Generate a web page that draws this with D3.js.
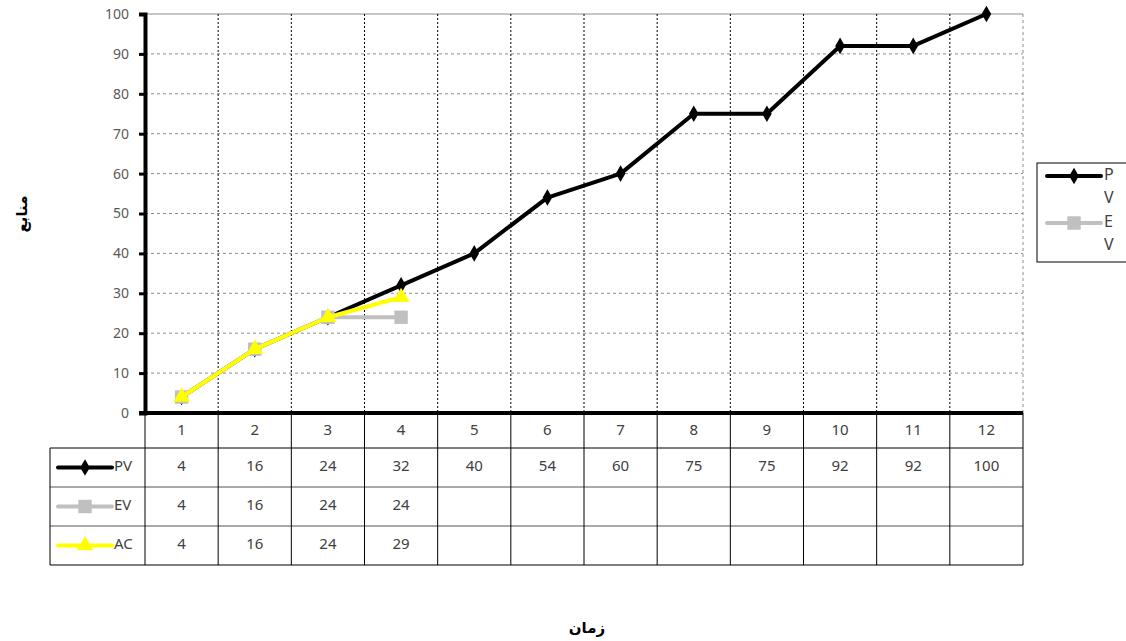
<!DOCTYPE html>
<html>
<head>
<meta charset="utf-8">
<script src="https://cdn.jsdelivr.net/npm/d3@7"></script>
<style>
  body{margin:0;background:#fff;}
  svg{display:block;font-family:"Noto Sans","DejaVu Sans",sans-serif;}
</style>
</head>
<body>
<svg id="chart" width="1126" height="641"></svg>
<script>
// chart data
const periods = [1,2,3,4,5,6,7,8,9,10,11,12];
const pvValues = [4,16,24,32,40,54,60,75,75,92,92,100];
const evValues = [4,16,24,24];
const acValues = [4,16,24,29];
const yTicks = [0,10,20,30,40,50,60,70,80,90,100];
const seriesNames = ['PV','EV','AC'];
const yTitle = 'منابع';
const xTitle = 'زمان';

const seriesStyle = {
    PV:{color:'#000000', marker:d3.symbolDiamond, size:80},
    EV:{color:'#c0c0c0', marker:d3.symbolSquare, size:180},
    AC:{color:'#ffff00', marker:d3.symbolTriangle, size:120}
};

const svg = d3.select('#chart');
const plot = {left:145, right:1023, top:14, bottom:413};
const rowH = 39;
const tableLeft = 50;

const x = d3.scaleBand().domain(periods).range([plot.left, plot.right]);
const y = d3.scaleLinear().domain([0,100]).range([plot.bottom, plot.top]);

// horizontal gridlines
svg.append('g')
    .selectAll('line')
    .data(yTicks.filter(v=>v>0))
    .join('line')
    .attr('x1',plot.left).attr('x2',plot.right)
    .attr('y1',d=>y(d)).attr('y2',d=>y(d))
    .attr('stroke','#8c8c8c')
    .attr('stroke-width',1)
    .attr('stroke-dasharray',d=>d===100?null:'3,3');

// right border
svg.append('line')
    .attr('x1',plot.right).attr('x2',plot.right)
    .attr('y1',plot.top).attr('y2',plot.bottom)
    .attr('stroke','#8c8c8c')
    .attr('stroke-dasharray','3,3');

// vertical gridlines at category boundaries
svg.append('g')
    .selectAll('line')
    .data(periods.slice(1))
    .join('line')
    .attr('x1',d=>x(d)).attr('x2',d=>x(d))
    .attr('y1',plot.top).attr('y2',plot.bottom)
    .attr('stroke','#000')
    .attr('stroke-width',1)
    .attr('stroke-dasharray','2,2');

// y axis
const yAxis = svg.append('g')
    .attr('transform',`translate(${plot.left},0)`)
    .call(d3.axisLeft(y).tickValues(yTicks).tickSize(6).tickPadding(10));
yAxis.select('.domain').attr('stroke','#000').attr('stroke-width',4);
yAxis.selectAll('.tick line').attr('stroke','#000').attr('stroke-width',3);
yAxis.selectAll('.tick text')
    .attr('fill','#595959')
    .style('font-size','14px')
    .style('font-family','"Noto Sans","DejaVu Sans",sans-serif');

// x axis line
svg.append('line')
    .attr('x1',plot.left-6).attr('x2',plot.right)
    .attr('y1',plot.bottom).attr('y2',plot.bottom)
    .attr('stroke','#000').attr('stroke-width',4);

// series lines and markers
const line = d3.line()
    .x((d,i)=>x(periods[i])+x.bandwidth()/2)
    .y(d=>y(d));
const seriesData = {PV:pvValues, EV:evValues, AC:acValues};

seriesNames.forEach(name=>{
    const st = seriesStyle[name];
    const vals = seriesData[name];
    const g = svg.append('g');
    g.append('path')
        .datum(vals)
        .attr('d',line)
        .attr('fill','none')
        .attr('stroke',st.color)
        .attr('stroke-width',4)
        .attr('stroke-linejoin','round');
    g.selectAll('path.marker')
        .data(vals)
        .join('path')
        .attr('class','marker')
        .attr('transform',(d,i)=>`translate(${x(periods[i])+x.bandwidth()/2},${y(d)})`)
        .attr('d',d3.symbol(st.marker,st.size))
        .attr('fill',st.color);
});

// data table
const headerBottom = plot.bottom + 35;
const rowY = i=>headerBottom + i*rowH;
const table = svg.append('g');

// horizontal lines of the table
table.selectAll('line.h')
    .data([0,1,2,3])
    .join('line')
    .attr('class','h')
    .attr('x1',tableLeft).attr('x2',plot.right)
    .attr('y1',d=>rowY(d)).attr('y2',d=>rowY(d))
    .attr('stroke',(d,i)=>i===0||i===3?'#000':'#555')
    .attr('stroke-width',1);

// vertical lines of the table
table.selectAll('line.v')
    .data(periods.map(p=>x(p)).concat([plot.right]))
    .join('line')
    .attr('class','v')
    .attr('x1',d=>d).attr('x2',d=>d)
    .attr('y1',plot.bottom).attr('y2',rowY(3))
    .attr('stroke','#000').attr('stroke-width',1);
table.append('line')
    .attr('x1',tableLeft).attr('x2',tableLeft)
    .attr('y1',rowY(0)).attr('y2',rowY(3))
    .attr('stroke','#000');

// header with category numbers
table.selectAll('text.cat')
    .data(periods)
    .join('text')
    .attr('class','cat')
    .attr('x',d=>x(d)+x.bandwidth()/2)
    .attr('y',plot.bottom+18)
    .attr('text-anchor','middle')
    .attr('dominant-baseline','middle')
    .attr('fill','#404040')
    .style('font-size','15px')
    .text(d=>d);

// rows
seriesNames.forEach((name,r)=>{
    const st = seriesStyle[name];
    const cy = rowY(r)+rowH/2;
    const vals = seriesData[name];
    table.append('line')
        .attr('x1',58).attr('x2',112)
        .attr('y1',cy).attr('y2',cy)
        .attr('stroke',st.color).attr('stroke-width',4)
        .attr('stroke-linecap','round');
    table.append('path')
        .attr('transform',`translate(85,${cy})`)
        .attr('d',d3.symbol(st.marker,st.size))
        .attr('fill',st.color);
    table.append('text')
        .attr('x',114).attr('y',cy-1)
        .attr('dominant-baseline','middle')
        .attr('fill','#404040')
        .style('font-size','15px')
        .text(name);
    table.selectAll(`text.v${name}`)
        .data(vals)
        .join('text')
        .attr('class',`v${name}`)
        .attr('x',(d,i)=>x(periods[i])+x.bandwidth()/2)
        .attr('y',cy-1)
        .attr('text-anchor','middle')
        .attr('dominant-baseline','middle')
        .attr('fill','#404040')
        .style('font-size','15px')
        .text(d=>d);
});

// legend (clipped at the right edge, as in the source)
const legend = svg.append('g').attr('transform','translate(1037,163)');
legend.append('rect')
    .attr('width',100).attr('height',99)
    .attr('fill','#fff').attr('stroke','#000').attr('stroke-width',1);
['PV','EV'].forEach((name,i)=>{
    const st = seriesStyle[name];
    const cy = 13 + i*47;
    legend.append('line')
        .attr('x1',10).attr('x2',64)
        .attr('y1',cy).attr('y2',cy)
        .attr('stroke',st.color).attr('stroke-width',4)
        .attr('stroke-linecap','round');
    legend.append('path')
        .attr('transform',`translate(37,${cy})`)
        .attr('d',d3.symbol(st.marker,st.size))
        .attr('fill',st.color);
    legend.selectAll(`text.l${name}`)
        .data(name.split(''))
        .join('text')
        .attr('class',`l${name}`)
        .attr('x',67)
        .attr('y',(d,j)=>cy+j*23)
        .attr('dominant-baseline','middle')
        .attr('fill','#404040')
        .style('font-size','16px')
        .text(d=>d);
});

// axis titles
svg.append('text')
    .attr('transform','translate(22,214) rotate(-90)')
    .attr('text-anchor','middle')
    .attr('dominant-baseline','middle')
    .style('font-size','15px')
    .style('font-weight','bold')
    .style('font-family','"DejaVu Sans",sans-serif')
    .attr('direction','rtl')
    .text(yTitle);
svg.append('text')
    .attr('x',587).attr('y',628)
    .attr('text-anchor','middle')
    .attr('dominant-baseline','middle')
    .style('font-size','15px')
    .style('font-weight','bold')
    .style('font-family','"DejaVu Sans",sans-serif')
    .attr('direction','rtl')
    .text(xTitle);
</script>
</body>
</html>
